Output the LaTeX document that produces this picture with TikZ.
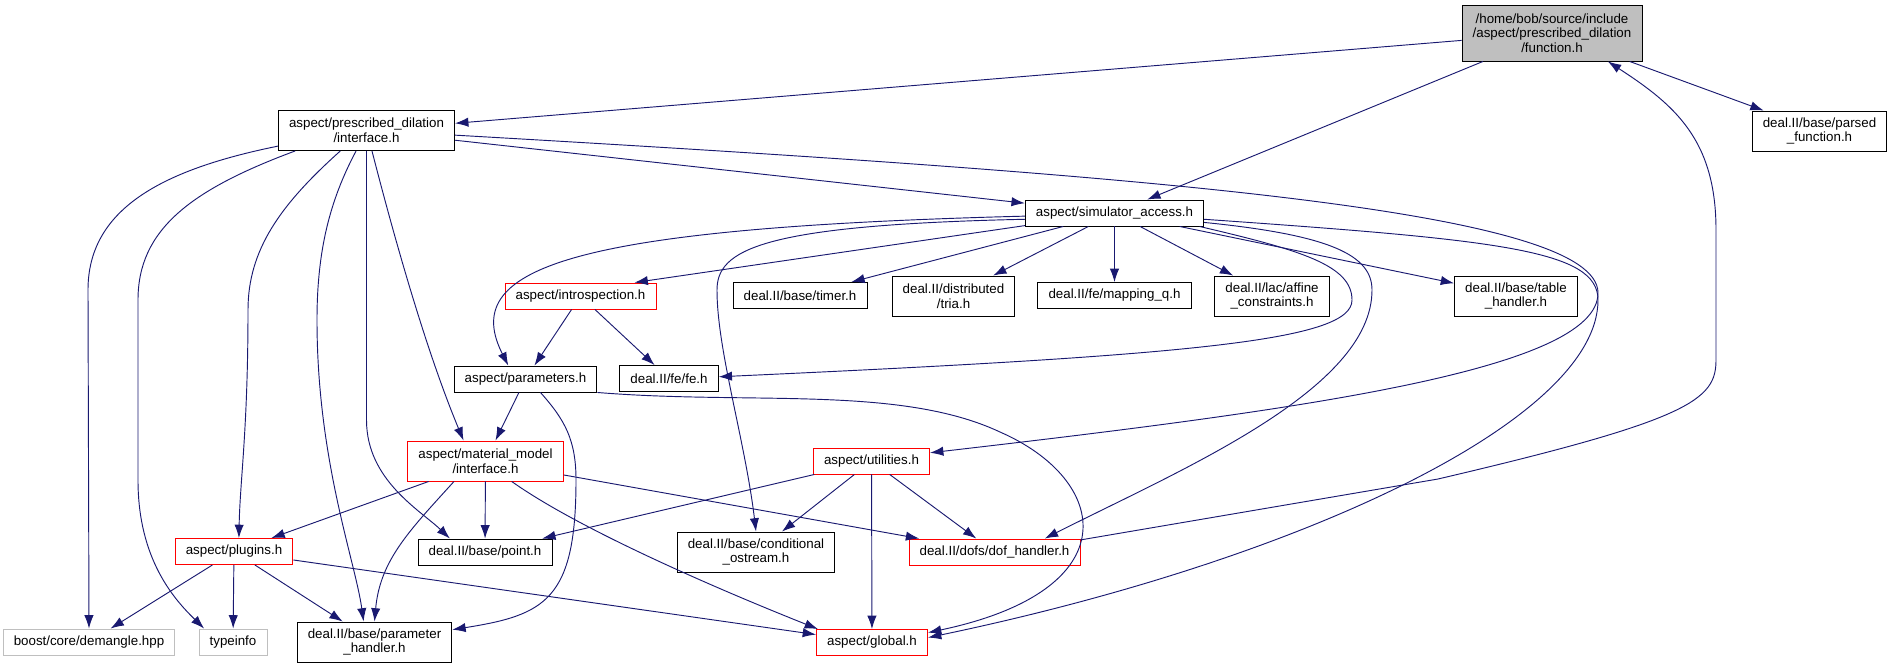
\documentclass[tikz,border=0pt]{standalone}
\usepackage{fontspec}
\setmainfont{Liberation Sans}
\usetikzlibrary{arrows.meta}
\definecolor{edgeblue}{HTML}{191970}
\definecolor{boxgray}{HTML}{BFBFBF}
\tikzstyle{block} = [rectangle, draw=black, line width=0.7pt, minimum height=19.5pt, inner xsep=8pt, inner ysep=3pt, align=center, font=\fontsize{10}{11}\selectfont]
\tikzstyle{redblock} = [block, draw=red]
\tikzstyle{greyblock} = [block, draw=boxgray]
\tikzstyle{rootblock} = [block, fill=boxgray, minimum height=42pt]
\tikzstyle{tall} = [minimum height=30pt]
\tikzstyle{arrow} = [-{Latex[length=10pt,width=7pt]}, edgeblue, line width=0.7pt]
\begin{document}
\begin{tikzpicture}[x=0.75pt, y=-0.75pt]
\useasboundingbox (0,0) rectangle (1892,669);

\node[rootblock] (function) at (1552,33) {/home/bob/source/include\\/aspect/prescribed\_dilation\\/function.h};
\node[block, tall] (pdinterface) at (366.5,130.5) {aspect/prescribed\_dilation\\/interface.h};
\node[block, tall] (parsed) at (1819.5,131) {deal.II/base/parsed\\\_function.h};
\node[block] (simaccess) at (1114.5,213) {aspect/simulator\_access.h};
\node[redblock] (introspection) at (580.5,296) {aspect/introspection.h};
\node[block] (timer) at (800,295.5) {deal.II/base/timer.h};
\node[block, tall] (tria) at (953.5,296) {deal.II/distributed\\/tria.h};
\node[block] (mappingq) at (1114.5,295.5) {deal.II/fe/mapping\_q.h};
\node[block, tall] (affine) at (1272,296) {deal.II/lac/affine\\\_constraints.h};
\node[block, tall] (tablehandler) at (1516,296) {deal.II/base/table\\\_handler.h};
\node[block] (parameters) at (525.5,379) {aspect/parameters.h};
\node[block] (fe) at (669,378.5) {deal.II/fe/fe.h};
\node[redblock, tall] (mminterface) at (485.5,461) {aspect/material\_model\\/interface.h};
\node[redblock] (utilities) at (871.5,461) {aspect/utilities.h};
\node[redblock] (plugins) at (234,551.5) {aspect/plugins.h};
\node[block] (point) at (485,552) {deal.II/base/point.h};
\node[block, tall] (condostream) at (756,552) {deal.II/base/conditional\\\_ostream.h};
\node[redblock] (dofhandler) at (994.5,552) {deal.II/dofs/dof\_handler.h};
\node[greyblock] (demangle) at (89,642) {boost/core/demangle.hpp};
\node[greyblock] (typeinfo) at (233,642) {typeinfo};
\node[block, tall] (paramhandler) at (374.5,642) {deal.II/base/parameter\\\_handler.h};
\node[redblock] (global) at (872,642.5) {aspect/global.h};

\draw[arrow] (function) -- (pdinterface);
\draw[arrow] (function) -- (simaccess);
\draw[arrow] (function) -- (parsed);

\draw[arrow] (pdinterface) -- (simaccess);
\draw[arrow] (pdinterface.-3) .. controls (1150,175) and (1598,210) .. (1598,293) .. controls (1598,370) and (1300,410) .. (utilities.8);
\draw[arrow] (pdinterface.190) .. controls (160,170) and (88,210) .. (88,290) -- (demangle.north);
\draw[arrow] (pdinterface.196) .. controls (190,190) and (138,230) .. (138,300) -- (138,480) .. controls (138,560) and (175,600) .. (typeinfo.155);
\draw[arrow] (pdinterface.218) .. controls (280,205) and (248,250) .. (248,310) .. controls (248,430) and (240,480) .. (plugins.70);
\draw[arrow] (pdinterface.243) .. controls (330,200) and (317,250) .. (317,320) .. controls (317,460) and (355,560) .. (paramhandler.118);
\draw[arrow] (pdinterface.south) -- (366.5,420) .. controls (366.5,480) and (420,510) .. (point.159);
\draw[arrow] (pdinterface.-75) .. controls (400,260) and (430,360) .. (mminterface.137);

\draw[arrow] (simaccess.188) -- (introspection.14);
\draw[arrow] (simaccess.182) .. controls (560,228) and (460,270) .. (parameters.142);
\draw[arrow] (simaccess.184) .. controls (760,225) and (717,250) .. (717,290) .. controls (717,350) and (745,440) .. (condostream.north);
\draw[arrow] (simaccess) -- (timer);
\draw[arrow] (simaccess) -- (tria);
\draw[arrow] (simaccess) -- (mappingq);
\draw[arrow] (simaccess) -- (affine);
\draw[arrow] (simaccess) -- (tablehandler);
\draw[arrow] (simaccess.-9) .. controls (1300,250) and (1352,265) .. (1352,300) .. controls (1352,340) and (1200,355) .. (fe.2);
\draw[arrow] (simaccess.-6) .. controls (1330,235) and (1372,255) .. (1372,290) .. controls (1372,390) and (1180,470) .. (dofhandler.15);
\draw[arrow] (simaccess.-4) .. controls (1500,240) and (1598,250) .. (1598,300) .. controls (1598,420) and (1300,560) .. (global.5);

\draw[arrow] (introspection) -- (parameters);
\draw[arrow] (introspection) -- (fe);

\draw[arrow] (parameters) -- (mminterface);
\draw[arrow] (parameters.-42) .. controls (565,420) and (576,440) .. (576,480) .. controls (576,600) and (545,615) .. (paramhandler.9);
\draw[arrow] (parameters.south east) .. controls (750,405) and (900,385) .. (1000,432) .. controls (1110,480) and (1130,590) .. (global.10);

\draw[arrow] (mminterface) -- (plugins);
\draw[arrow] (mminterface) -- (point);
\draw[arrow] (mminterface.213) .. controls (410,530) and (380,560) .. (paramhandler.north);
\draw[arrow] (mminterface.-38) .. controls (580,530) and (720,590) .. (global.166);
\draw[arrow] (mminterface) -- (dofhandler);

\draw[arrow] (utilities) -- (point);
\draw[arrow] (utilities) -- (condostream);
\draw[arrow] (utilities) -- (global);
\draw[arrow] (utilities) -- (dofhandler);

\draw[arrow] (plugins) -- (demangle);
\draw[arrow] (plugins) -- (typeinfo);
\draw[arrow] (plugins) -- (paramhandler);
\draw[arrow] (plugins) -- (global);

\draw[arrow] (dofhandler.8) -- (1438,479) .. controls (1690,420) and (1716,400) .. (1716,360) -- (1716,230) .. controls (1716,140) and (1675,105) .. (function.-27);

\end{tikzpicture}
\end{document}
